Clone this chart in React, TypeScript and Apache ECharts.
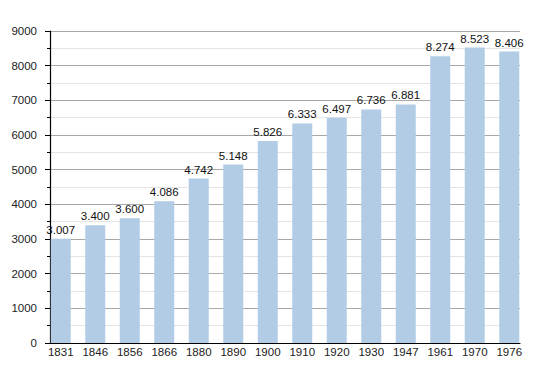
import React, { useEffect, useRef } from "react";
import * as echarts from "echarts";

const years = ["1831", "1846", "1856", "1866", "1880", "1890", "1900", "1910", "1920", "1930", "1947", "1961", "1970", "1976"];
const population = [3007, 3400, 3600, 4086, 4742, 5148, 5826, 6333, 6497, 6736, 6881, 8274, 8523, 8406];
const yMin = 0;
const yMax = 9000;
const yStep = 1000;

const fmt = (v: number) => {
  const s = String(Math.round(v));
  return s.replace(/\B(?=(\d{3})+(?!\d))/g, ".");
};

export default function App() {
  const ref = useRef<HTMLDivElement>(null);
  useEffect(() => {
    if (!ref.current) return;
    document.body.style.margin = "0";
    const chart = echarts.init(ref.current, undefined, { renderer: "svg" });
    const font = "'Liberation Sans', Arial, sans-serif";
    chart.setOption({
      animation: false,
      backgroundColor: "#ffffff",
      grid: [
        { left: 50, right: 30, top: 31, bottom: 30 },
        { left: 43.5, right: 23.5, top: 31, bottom: 30 },
      ],
      xAxis: [
        {
          gridIndex: 0,
          type: "category",
          data: years,
          axisLine: { show: true, lineStyle: { color: "#000", width: 1.2 } },
          axisTick: { show: false },
          axisLabel: { show: false },
          splitLine: { show: false },
        },
        {
          gridIndex: 1,
          type: "category",
          data: years,
          boundaryGap: true,
          axisLine: { show: false },
          axisTick: { show: false },
          axisLabel: { color: "#222", fontSize: 11.5, fontFamily: font, margin: 3 },
          splitLine: { show: false },
        },
      ],
      yAxis: [
        {
          gridIndex: 0,
          type: "value",
          min: yMin,
          max: yMax,
          interval: yStep,
          axisLine: { show: true, lineStyle: { color: "#000", width: 1.2 } },
          axisTick: { show: true, inside: false, length: 5, lineStyle: { color: "#000" } },
          minorTick: { show: true, splitNumber: 2, length: 3, lineStyle: { color: "#000" } },
          axisLabel: { color: "#222", fontSize: 11.5, fontFamily: font, margin: 13, formatter: (v: number) => String(v) },
          splitLine: { show: true, lineStyle: { color: "#a8a8a8", width: 1 } },
          minorSplitLine: { show: true, lineStyle: { color: "#e4e4e4", width: 1 } },
        },
        {
          gridIndex: 1,
          type: "value",
          min: yMin,
          max: yMax,
          interval: yStep,
          show: false,
          splitLine: { show: false },
        },
      ],
      series: [
        {
          type: "bar",
          xAxisIndex: 1,
          yAxisIndex: 1,
          data: population,
          barWidth: 20,
          itemStyle: { color: "#b2cce6" },
          label: {
            show: true,
            position: "top",
            distance: 3,
            color: "#111",
            fontSize: 11.5,
            fontFamily: font,
            formatter: (p: any) => fmt(p.value),
          },
        },
      ],
    });
    return () => chart.dispose();
  }, []);
  return <div ref={ref} style={{ width: 550, height: 373 }} />;
}
